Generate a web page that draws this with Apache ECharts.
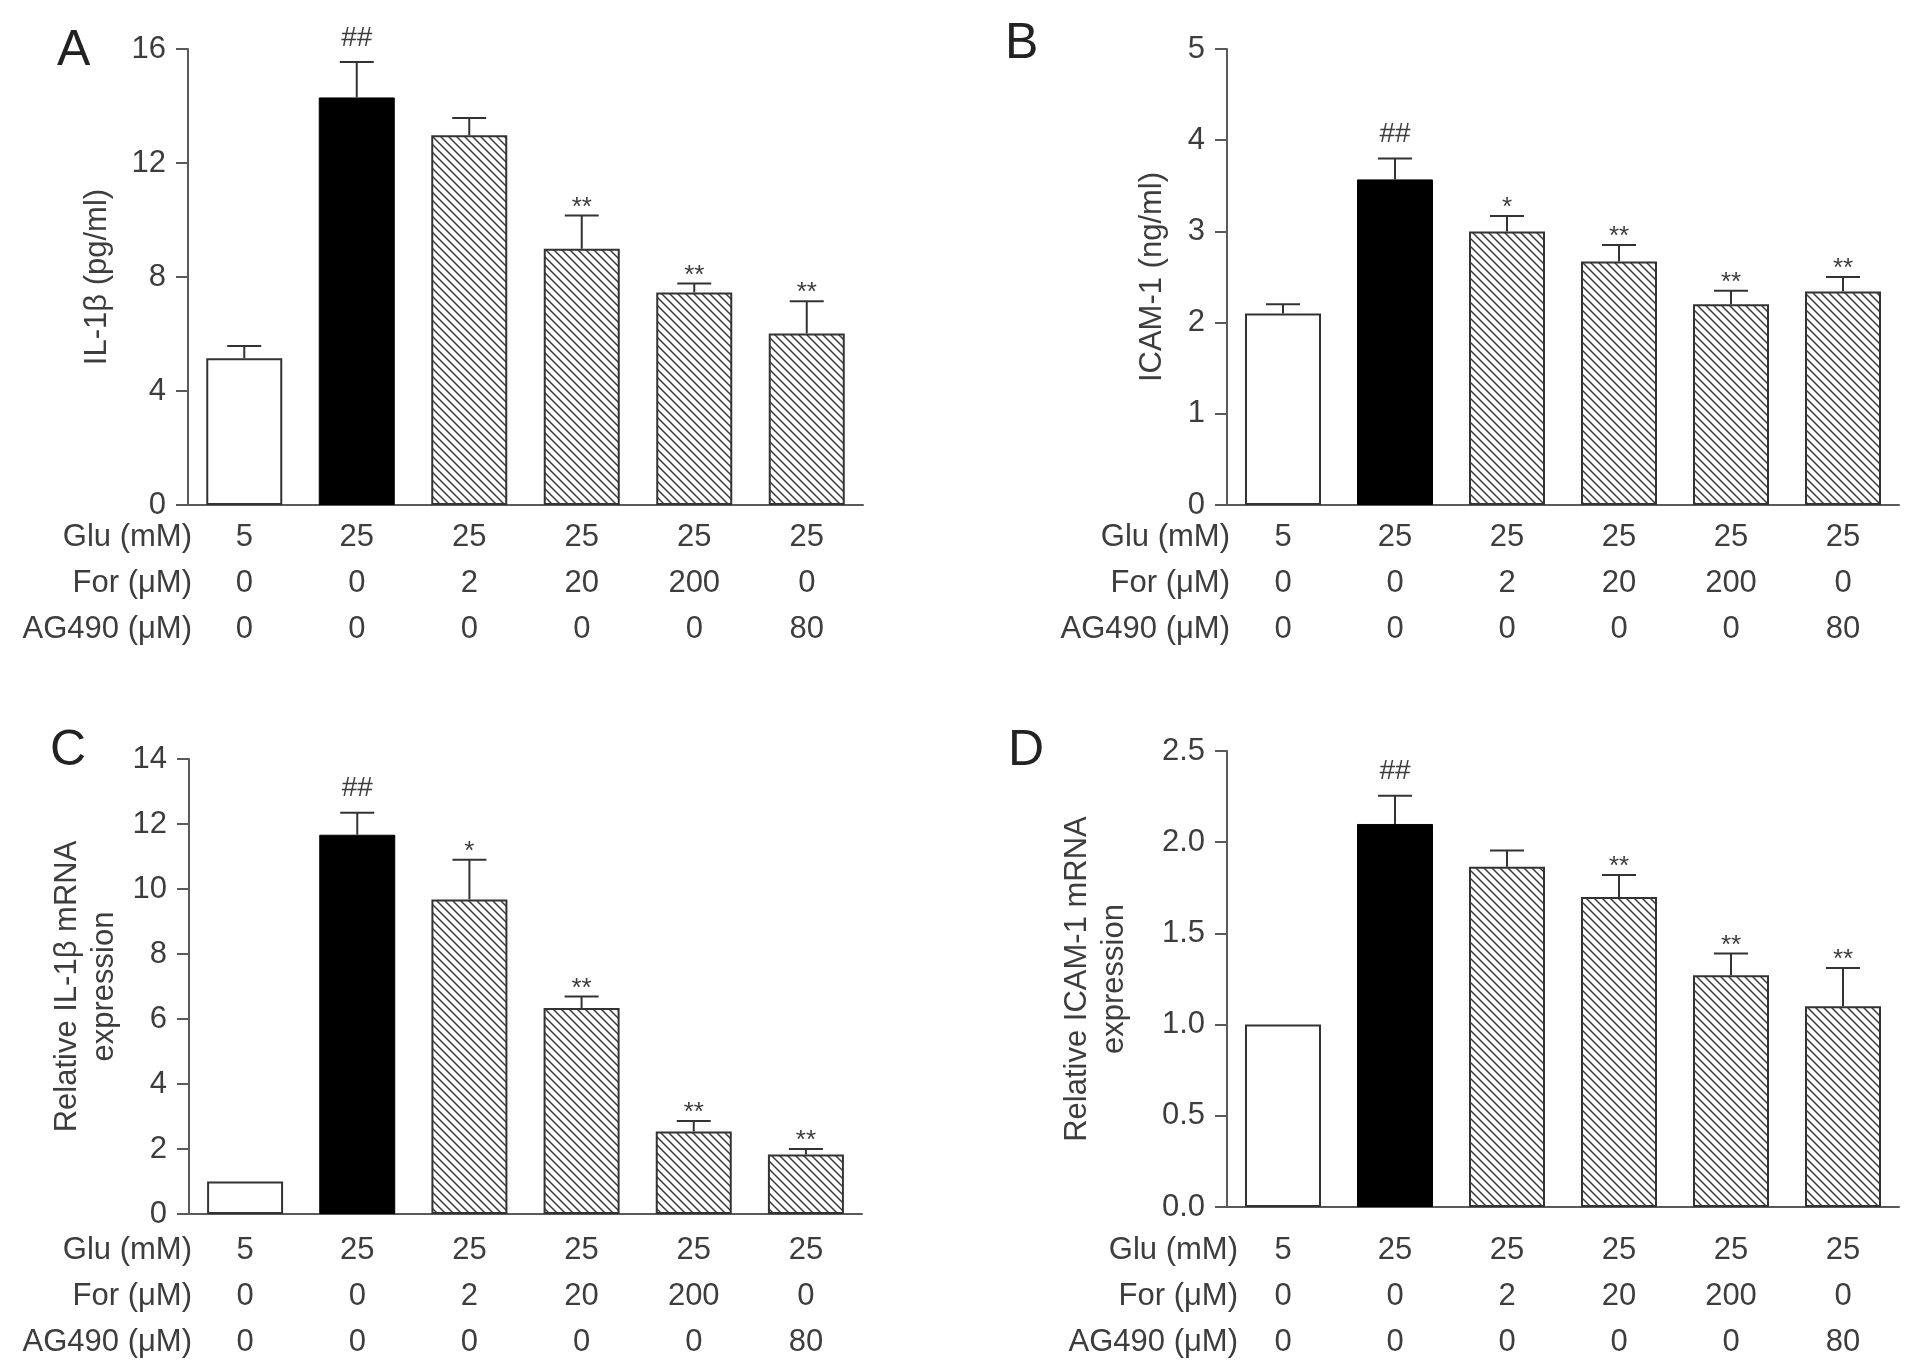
<!DOCTYPE html>
<html><head><meta charset="utf-8">
<script src="https://cdn.jsdelivr.net/npm/echarts@6/dist/echarts.min.js"></script>
<style>html,body{margin:0;padding:0;background:#fff}#c{width:1913px;height:1372px}</style>
</head><body><div id="c"></div>
<script>
// ---- data ----
const gluMM = [5, 25, 25, 25, 25, 25];
const forUM = [0, 0, 2, 20, 200, 0];
const ag490UM = [0, 0, 0, 0, 0, 80];
const rowLabels = ['Glu (mM)', 'For (\u03bcM)', 'AG490 (\u03bcM)'];

const il1bProtein = [5.15, 14.3, 12.97, 8.99, 7.46, 6.02];
const il1bProteinSem = [0.43, 1.24, 0.61, 1.17, 0.31, 1.13];
const il1bProteinSig = ['', '##', '', '**', '**', '**'];

const icamProtein = [2.10, 3.57, 3.00, 2.67, 2.20, 2.34];
const icamProteinSem = [0.10, 0.23, 0.17, 0.18, 0.15, 0.16];
const icamProteinSig = ['', '##', '*', '**', '**', '**'];

const il1bMrna = [1.0, 11.67, 9.68, 6.34, 2.54, 1.83];
const il1bMrnaSem = [0, 0.68, 1.22, 0.35, 0.32, 0.17];
const il1bMrnaSig = ['', '##', '*', '**', '**', '**'];

const icamMrna = [1.0, 2.10, 1.865, 1.70, 1.27, 1.10];
const icamMrnaSem = [0, 0.155, 0.09, 0.12, 0.12, 0.21];
const icamMrnaSig = ['', '##', '', '**', '**', '**'];

const yTicksA = {min: 0, max: 16, interval: 4};
const yTicksB = {min: 0, max: 5, interval: 1};
const yTicksC = {min: 0, max: 14, interval: 2};
const yTicksD = {min: 0, max: 2.5, interval: 0.5};

// ---- styling / layout ----
const FONT = "'Liberation Sans', Arial, Helvetica, sans-serif";
const TXT = '#3d3d3d';
const AX = '#5a5a5a';

function hatchCanvas() {
  const s = 8, c = document.createElement('canvas');
  c.width = s; c.height = s;
  const g = c.getContext('2d');
  g.fillStyle = '#fff'; g.fillRect(0, 0, s, s);
  g.strokeStyle = '#3a3a3a'; g.lineWidth = 1.5;
  g.beginPath();
  g.moveTo(-1, -1); g.lineTo(s + 1, s + 1);
  g.moveTo(-1, s - 1); g.lineTo(1, s + 1);
  g.moveTo(s - 1, -1); g.lineTo(s + 1, 1);
  g.stroke();
  return c;
}
const HATCH = {image: hatchCanvas(), repeat: 'repeat'};

const cats = gluMM.map((g, i) => i);

const panels = [
  {letter: 'A', vals: il1bProtein, sem: il1bProteinSem, sig: il1bProteinSig, ticks: yTicksA,
   name: 'IL-1\u03b2 (pg/ml)', grid: {left: 188, top: 49, width: 675, height: 456},
   nameGap: 72, labMargin: 9, rowX: 192, rowY: 537, letterPos: [74, 53], dec: 0},
  {letter: 'B', vals: icamProtein, sem: icamProteinSem, sig: icamProteinSig, ticks: yTicksB,
   name: 'ICAM-1 (ng/ml)', grid: {left: 1227, top: 49, width: 672, height: 456},
   nameGap: 56, labMargin: 9, rowX: 1230, rowY: 537, letterPos: [1022, 46], dec: 0},
  {letter: 'C', vals: il1bMrna, sem: il1bMrnaSem, sig: il1bMrnaSig, ticks: yTicksC,
   name: 'Relative IL-1\u03b2 mRNA\nexpression', grid: {left: 189, top: 759, width: 673, height: 455},
   nameGap: 66, labMargin: 13, rowX: 192, rowY: 1250, letterPos: [67, 753], dec: 0},
  {letter: 'D', vals: icamMrna, sem: icamMrnaSem, sig: icamMrnaSig, ticks: yTicksD,
   name: 'Relative ICAM-1 mRNA\nexpression', grid: {left: 1227, top: 751, width: 672, height: 456},
   nameGap: 94, labMargin: 20, rowX: 1238, rowY: 1250, letterPos: [1025, 753], dec: 1}
];

const grid = [], xAxis = [], yAxis = [], series = [], graphic = [];

panels.forEach((p, k) => {
  grid.push(p.grid);
  xAxis.push({
    type: 'category', gridIndex: k, data: cats,
    axisLine: {lineStyle: {color: AX, width: 2}},
    axisTick: {show: false},
    axisLabel: {
      margin: p.labMargin, color: TXT, fontFamily: FONT, fontSize: 31, lineHeight: 46,
      formatter: v => [gluMM[v], forUM[v], ag490UM[v]].join('\n')
    }
  });
  yAxis.push({
    type: 'value', gridIndex: k, min: p.ticks.min, max: p.ticks.max, interval: p.ticks.interval,
    name: p.name, nameLocation: 'middle', nameGap: p.nameGap,
    nameTextStyle: {color: TXT, fontFamily: FONT, fontSize: 31, lineHeight: 37},
    axisLine: {show: true, lineStyle: {color: AX, width: 2}},
    axisTick: {show: true, length: 12, lineStyle: {color: AX, width: 2}},
    axisLabel: {margin: 22, color: TXT, fontFamily: FONT, fontSize: 31,
      formatter: v => v.toFixed(p.dec)},
    splitLine: {show: false}
  });
  series.push({
    type: 'bar', xAxisIndex: k, yAxisIndex: k, barWidth: 76, z: 2,
    data: p.vals.map((v, i) => ({
      value: v,
      itemStyle: i === 0 ? {color: '#fff', borderColor: '#333', borderWidth: 2}
        : i === 1 ? {color: '#000', borderColor: '#000', borderWidth: 1}
        : {color: HATCH, borderColor: '#333', borderWidth: 2}
    }))
  });
  series.push({
    type: 'custom', xAxisIndex: k, yAxisIndex: k, z: 5,
    data: p.vals.map((v, i) => [i, v, p.sem[i]]),
    renderItem: (params, api) => {
      const i = api.value(0), m = api.value(1), e = api.value(2);
      const base = api.coord([i, m]);
      const top = api.coord([i, m + e]);
      const ch = [];
      const ls = {stroke: '#333', lineWidth: 2};
      if (e > 0) {
        ch.push({type: 'line', shape: {x1: base[0], y1: base[1], x2: top[0], y2: top[1]}, style: ls});
        ch.push({type: 'line', shape: {x1: top[0] - 17, y1: top[1], x2: top[0] + 17, y2: top[1]}, style: ls});
      }
      const s = p.sig[i];
      if (s) {
        const isHash = s.indexOf('#') >= 0;
        ch.push({type: 'text', x: top[0], y: top[1] + (isHash ? -24 : -8),
          style: {text: s, fill: TXT, font: (isHash ? 28 : 26) + 'px ' + FONT,
            align: 'center', verticalAlign: 'middle'}});
      }
      return {type: 'group', children: ch};
    }
  });
  graphic.push({type: 'text', left: p.letterPos[0] - 17, top: p.letterPos[1] - 27,
    style: {text: p.letter, fill: '#222', font: '50px ' + FONT}});
  rowLabels.forEach((r, j) => {
    graphic.push({type: 'text', x: p.rowX, y: p.rowY + j * 46,
      style: {text: r, fill: TXT, font: '31px ' + FONT, align: 'right', verticalAlign: 'middle'}});
  });
});

const chart = echarts.init(document.getElementById('c'), null, {renderer: 'canvas'});
chart.setOption({backgroundColor: '#fff', animation: false, grid, xAxis, yAxis, series, graphic});
</script>
</body></html>
